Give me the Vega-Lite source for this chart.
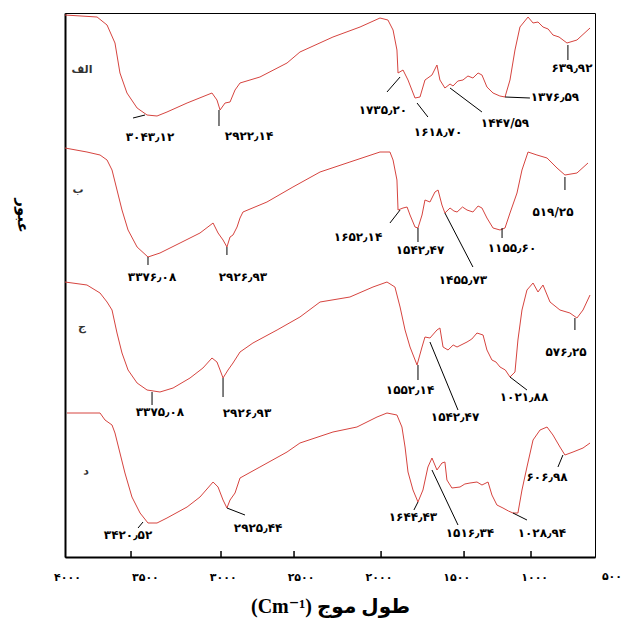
{
  "$schema": "https://vega.github.io/schema/vega-lite/v6.json",
  "autosize": {"type": "none"},
  "padding": {"left": 65, "top": 13, "right": 32, "bottom": 72},
  "width": 530,
  "height": 544,
  "background": "white",
  "config": {
    "view": {"stroke": "black", "strokeWidth": 1},
    "axis": {"grid": false}
  },
  "datasets": {
    "spectra": [
      {"sample": "الف", "wn": 4013, "t": 542}, {"sample": "الف", "wn": 3807, "t": 540}, {"sample": "الف", "wn": 3743, "t": 532},
      {"sample": "الف", "wn": 3692, "t": 514}, {"sample": "الف", "wn": 3660, "t": 484}, {"sample": "الف", "wn": 3615, "t": 464},
      {"sample": "الف", "wn": 3550, "t": 449}, {"sample": "الف", "wn": 3486, "t": 442}, {"sample": "الف", "wn": 3422, "t": 441},
      {"sample": "الف", "wn": 3358, "t": 445}, {"sample": "الف", "wn": 3229, "t": 454}, {"sample": "الف", "wn": 3101, "t": 462},
      {"sample": "الف", "wn": 3069, "t": 464}, {"sample": "الف", "wn": 3037, "t": 457}, {"sample": "الف", "wn": 3017, "t": 447},
      {"sample": "الف", "wn": 2985, "t": 454}, {"sample": "الف", "wn": 2953, "t": 455}, {"sample": "الف", "wn": 2921, "t": 467},
      {"sample": "الف", "wn": 2889, "t": 474}, {"sample": "الف", "wn": 2761, "t": 480}, {"sample": "الف", "wn": 2587, "t": 494},
      {"sample": "الف", "wn": 2504, "t": 505}, {"sample": "الف", "wn": 2292, "t": 520}, {"sample": "الف", "wn": 2118, "t": 530},
      {"sample": "الف", "wn": 1990, "t": 539}, {"sample": "الف", "wn": 1939, "t": 537}, {"sample": "الف", "wn": 1906, "t": 527},
      {"sample": "الف", "wn": 1881, "t": 507}, {"sample": "الف", "wn": 1874, "t": 484}, {"sample": "الف", "wn": 1842, "t": 487},
      {"sample": "الف", "wn": 1810, "t": 477}, {"sample": "الف", "wn": 1765, "t": 459}, {"sample": "الف", "wn": 1733, "t": 460},
      {"sample": "الف", "wn": 1701, "t": 477}, {"sample": "الف", "wn": 1656, "t": 482}, {"sample": "الف", "wn": 1624, "t": 492},
      {"sample": "الف", "wn": 1605, "t": 477}, {"sample": "الف", "wn": 1573, "t": 469}, {"sample": "الف", "wn": 1540, "t": 473},
      {"sample": "الف", "wn": 1521, "t": 471}, {"sample": "الف", "wn": 1490, "t": 476}, {"sample": "الف", "wn": 1457, "t": 477},
      {"sample": "الف", "wn": 1425, "t": 481}, {"sample": "الف", "wn": 1393, "t": 479}, {"sample": "الف", "wn": 1360, "t": 484},
      {"sample": "الف", "wn": 1335, "t": 482}, {"sample": "الف", "wn": 1303, "t": 470}, {"sample": "الف", "wn": 1264, "t": 464},
      {"sample": "الف", "wn": 1220, "t": 461}, {"sample": "الف", "wn": 1187, "t": 460},
      {"sample": "الف", "wn": 1155, "t": 477}, {"sample": "الف", "wn": 1123, "t": 507}, {"sample": "الف", "wn": 1091, "t": 530},
      {"sample": "الف", "wn": 1039, "t": 540}, {"sample": "الف", "wn": 1007, "t": 534}, {"sample": "الف", "wn": 975, "t": 535},
      {"sample": "الف", "wn": 943, "t": 530}, {"sample": "الف", "wn": 910, "t": 528},
      {"sample": "الف", "wn": 879, "t": 522}, {"sample": "الف", "wn": 840, "t": 520}, {"sample": "الف", "wn": 789, "t": 514}, {"sample": "الف", "wn": 725, "t": 517},
      {"sample": "الف", "wn": 641, "t": 529},

      {"sample": "ب", "wn": 4013, "t": 409}, {"sample": "ب", "wn": 3872, "t": 405}, {"sample": "ب", "wn": 3788, "t": 402},
      {"sample": "ب", "wn": 3743, "t": 397}, {"sample": "ب", "wn": 3711, "t": 387}, {"sample": "ب", "wn": 3679, "t": 367},
      {"sample": "ب", "wn": 3647, "t": 347}, {"sample": "ب", "wn": 3608, "t": 327}, {"sample": "ب", "wn": 3550, "t": 310},
      {"sample": "ب", "wn": 3480, "t": 300}, {"sample": "ب", "wn": 3403, "t": 304}, {"sample": "ب", "wn": 3274, "t": 314},
      {"sample": "ب", "wn": 3146, "t": 324}, {"sample": "ب", "wn": 3062, "t": 334}, {"sample": "ب", "wn": 3030, "t": 324},
      {"sample": "ب", "wn": 2998, "t": 317}, {"sample": "ب", "wn": 2973, "t": 310}, {"sample": "ب", "wn": 2953, "t": 320},
      {"sample": "ب", "wn": 2934, "t": 322}, {"sample": "ب", "wn": 2908, "t": 330}, {"sample": "ب", "wn": 2889, "t": 339},
      {"sample": "ب", "wn": 2870, "t": 345}, {"sample": "ب", "wn": 2716, "t": 355}, {"sample": "ب", "wn": 2549, "t": 370},
      {"sample": "ب", "wn": 2375, "t": 385}, {"sample": "ب", "wn": 2183, "t": 395}, {"sample": "ب", "wn": 1990, "t": 405},
      {"sample": "ب", "wn": 1926, "t": 405}, {"sample": "ب", "wn": 1906, "t": 397}, {"sample": "ب", "wn": 1881, "t": 377},
      {"sample": "ب", "wn": 1874, "t": 347}, {"sample": "ب", "wn": 1842, "t": 349}, {"sample": "ب", "wn": 1816, "t": 350},
      {"sample": "ب", "wn": 1797, "t": 342}, {"sample": "ب", "wn": 1765, "t": 330}, {"sample": "ب", "wn": 1746, "t": 329},
      {"sample": "ب", "wn": 1720, "t": 342}, {"sample": "ب", "wn": 1701, "t": 357}, {"sample": "ب", "wn": 1669, "t": 355},
      {"sample": "ب", "wn": 1637, "t": 365}, {"sample": "ب", "wn": 1617, "t": 367}, {"sample": "ب", "wn": 1592, "t": 352},
      {"sample": "ب", "wn": 1573, "t": 344}, {"sample": "ب", "wn": 1540, "t": 349}, {"sample": "ب", "wn": 1515, "t": 346}, {"sample": "ب", "wn": 1495, "t": 345},
      {"sample": "ب", "wn": 1460, "t": 350}, {"sample": "ب", "wn": 1431, "t": 347}, {"sample": "ب", "wn": 1393, "t": 345}, {"sample": "ب", "wn": 1360, "t": 351}, {"sample": "ب", "wn": 1335, "t": 349},
      {"sample": "ب", "wn": 1303, "t": 339}, {"sample": "ب", "wn": 1264, "t": 329}, {"sample": "ب", "wn": 1219, "t": 327},
      {"sample": "ب", "wn": 1187, "t": 329}, {"sample": "ب", "wn": 1155, "t": 344}, {"sample": "ب", "wn": 1110, "t": 364},
      {"sample": "ب", "wn": 1078, "t": 387}, {"sample": "ب", "wn": 1039, "t": 405}, {"sample": "ب", "wn": 982, "t": 402},
      {"sample": "ب", "wn": 917, "t": 399}, {"sample": "ب", "wn": 853, "t": 389}, {"sample": "ب", "wn": 802, "t": 382},
      {"sample": "ب", "wn": 725, "t": 384}, {"sample": "ب", "wn": 654, "t": 394},

      {"sample": "ج", "wn": 4013, "t": 275}, {"sample": "ج", "wn": 3872, "t": 272}, {"sample": "ج", "wn": 3788, "t": 264},
      {"sample": "ج", "wn": 3743, "t": 255}, {"sample": "ج", "wn": 3711, "t": 247}, {"sample": "ج", "wn": 3679, "t": 224},
      {"sample": "ج", "wn": 3647, "t": 204}, {"sample": "ج", "wn": 3608, "t": 187}, {"sample": "ج", "wn": 3550, "t": 174},
      {"sample": "ج", "wn": 3486, "t": 167}, {"sample": "ج", "wn": 3403, "t": 165}, {"sample": "ج", "wn": 3319, "t": 169},
      {"sample": "ج", "wn": 3210, "t": 179}, {"sample": "ج", "wn": 3127, "t": 189}, {"sample": "ج", "wn": 3069, "t": 199},
      {"sample": "ج", "wn": 3037, "t": 195}, {"sample": "ج", "wn": 3017, "t": 187}, {"sample": "ج", "wn": 2998, "t": 179},
      {"sample": "ج", "wn": 2966, "t": 187}, {"sample": "ج", "wn": 2934, "t": 194}, {"sample": "ج", "wn": 2889, "t": 205},
      {"sample": "ج", "wn": 2806, "t": 214}, {"sample": "ج", "wn": 2651, "t": 227}, {"sample": "ج", "wn": 2504, "t": 240},
      {"sample": "ج", "wn": 2375, "t": 255}, {"sample": "ج", "wn": 2183, "t": 260}, {"sample": "ج", "wn": 2035, "t": 270},
      {"sample": "ج", "wn": 1945, "t": 275}, {"sample": "ج", "wn": 1894, "t": 270}, {"sample": "ج", "wn": 1861, "t": 250},
      {"sample": "ج", "wn": 1829, "t": 227}, {"sample": "ج", "wn": 1797, "t": 210}, {"sample": "ج", "wn": 1752, "t": 192},
      {"sample": "ج", "wn": 1720, "t": 210}, {"sample": "ج", "wn": 1701, "t": 220}, {"sample": "ج", "wn": 1669, "t": 219},
      {"sample": "ج", "wn": 1624, "t": 227}, {"sample": "ج", "wn": 1605, "t": 229}, {"sample": "ج", "wn": 1585, "t": 210},
      {"sample": "ج", "wn": 1553, "t": 207}, {"sample": "ج", "wn": 1520, "t": 212}, {"sample": "ج", "wn": 1495, "t": 210}, {"sample": "ج", "wn": 1431, "t": 215},
      {"sample": "ج", "wn": 1400, "t": 218}, {"sample": "ج", "wn": 1367, "t": 224}, {"sample": "ج", "wn": 1328, "t": 222}, {"sample": "ج", "wn": 1303, "t": 207},
      {"sample": "ج", "wn": 1271, "t": 197}, {"sample": "ج", "wn": 1245, "t": 195}, {"sample": "ج", "wn": 1219, "t": 190}, {"sample": "ج", "wn": 1185, "t": 187}, {"sample": "ج", "wn": 1155, "t": 180},
      {"sample": "ج", "wn": 1123, "t": 185}, {"sample": "ج", "wn": 1104, "t": 217}, {"sample": "ج", "wn": 1078, "t": 247},
      {"sample": "ج", "wn": 1046, "t": 267}, {"sample": "ج", "wn": 1007, "t": 274}, {"sample": "ج", "wn": 975, "t": 265},
      {"sample": "ج", "wn": 943, "t": 272}, {"sample": "ج", "wn": 898, "t": 255}, {"sample": "ج", "wn": 834, "t": 247},
      {"sample": "ج", "wn": 770, "t": 244}, {"sample": "ج", "wn": 725, "t": 239}, {"sample": "ج", "wn": 686, "t": 247},
      {"sample": "ج", "wn": 641, "t": 262},

      {"sample": "د", "wn": 4000, "t": 144}, {"sample": "د", "wn": 3788, "t": 144}, {"sample": "د", "wn": 3756, "t": 137},
      {"sample": "د", "wn": 3711, "t": 132}, {"sample": "د", "wn": 3692, "t": 124}, {"sample": "د", "wn": 3660, "t": 104},
      {"sample": "د", "wn": 3628, "t": 84}, {"sample": "د", "wn": 3583, "t": 60}, {"sample": "د", "wn": 3531, "t": 44},
      {"sample": "د", "wn": 3480, "t": 34}, {"sample": "د", "wn": 3422, "t": 34}, {"sample": "د", "wn": 3358, "t": 39},
      {"sample": "د", "wn": 3229, "t": 50}, {"sample": "د", "wn": 3146, "t": 60}, {"sample": "د", "wn": 3062, "t": 75},
      {"sample": "د", "wn": 3030, "t": 70}, {"sample": "د", "wn": 2998, "t": 57}, {"sample": "د", "wn": 2973, "t": 49},
      {"sample": "د", "wn": 2953, "t": 57}, {"sample": "د", "wn": 2921, "t": 64}, {"sample": "د", "wn": 2889, "t": 79},
      {"sample": "د", "wn": 2761, "t": 90}, {"sample": "د", "wn": 2587, "t": 105}, {"sample": "د", "wn": 2504, "t": 114},
      {"sample": "د", "wn": 2292, "t": 125}, {"sample": "د", "wn": 2138, "t": 130}, {"sample": "د", "wn": 2009, "t": 140},
      {"sample": "د", "wn": 1945, "t": 144}, {"sample": "د", "wn": 1881, "t": 142}, {"sample": "د", "wn": 1849, "t": 130},
      {"sample": "د", "wn": 1829, "t": 110}, {"sample": "د", "wn": 1810, "t": 85}, {"sample": "د", "wn": 1778, "t": 67},
      {"sample": "د", "wn": 1746, "t": 55}, {"sample": "د", "wn": 1714, "t": 67}, {"sample": "د", "wn": 1682, "t": 90},
      {"sample": "د", "wn": 1656, "t": 99}, {"sample": "د", "wn": 1624, "t": 87}, {"sample": "د", "wn": 1592, "t": 94},
      {"sample": "د", "wn": 1573, "t": 95}, {"sample": "د", "wn": 1560, "t": 77}, {"sample": "د", "wn": 1528, "t": 69},
      {"sample": "د", "wn": 1476, "t": 70}, {"sample": "د", "wn": 1445, "t": 73}, {"sample": "د", "wn": 1412, "t": 74}, {"sample": "د", "wn": 1367, "t": 75},
      {"sample": "د", "wn": 1335, "t": 72}, {"sample": "د", "wn": 1296, "t": 75}, {"sample": "د", "wn": 1271, "t": 62},
      {"sample": "د", "wn": 1239, "t": 52}, {"sample": "د", "wn": 1200, "t": 49}, {"sample": "د", "wn": 1165, "t": 46}, {"sample": "د", "wn": 1136, "t": 44},
      {"sample": "د", "wn": 1104, "t": 44}, {"sample": "د", "wn": 1078, "t": 67}, {"sample": "د", "wn": 1046, "t": 90},
      {"sample": "د", "wn": 1007, "t": 117}, {"sample": "د", "wn": 962, "t": 127}, {"sample": "د", "wn": 917, "t": 130},
      {"sample": "د", "wn": 879, "t": 122}, {"sample": "د", "wn": 834, "t": 110}, {"sample": "د", "wn": 802, "t": 102},
      {"sample": "د", "wn": 750, "t": 105}, {"sample": "د", "wn": 686, "t": 109}, {"sample": "د", "wn": 641, "t": 114}
    ],
    "peakLabels": [
      {"wn": 3467, "t": 420, "text": "۳۰۴۳٫۱۲"},
      {"wn": 2831, "t": 421, "text": "۲۹۲۲٫۱۴"},
      {"wn": 1971, "t": 447, "text": "۱۷۳۵٫۲۰"},
      {"wn": 1617, "t": 425, "text": "۱۶۱۸٫۷۰"},
      {"wn": 1187, "t": 434, "text": "۱۴۴۷/۵۹"},
      {"wn": 866, "t": 460, "text": "۱۳۷۶٫۵۹"},
      {"wn": 757, "t": 489, "text": "۶۳۹٫۹۲"},
      {"wn": 3454, "t": 280, "text": "۳۳۷۶٫۰۸"},
      {"wn": 2870, "t": 280, "text": "۲۹۲۶٫۹۳"},
      {"wn": 2131, "t": 320, "text": "۱۶۵۲٫۱۴"},
      {"wn": 1733, "t": 307, "text": "۱۵۴۲٫۴۷"},
      {"wn": 1457, "t": 277, "text": "۱۴۵۵٫۷۳"},
      {"wn": 1142, "t": 309, "text": "۱۱۵۵٫۶۰"},
      {"wn": 879, "t": 345, "text": "۵۱۹/۲۵"},
      {"wn": 3403, "t": 145, "text": "۳۳۷۵٫۰۸"},
      {"wn": 2844, "t": 144, "text": "۲۹۲۶٫۹۳"},
      {"wn": 1797, "t": 167, "text": "۱۵۵۲٫۱۴"},
      {"wn": 1508, "t": 140, "text": "۱۵۴۲٫۴۷"},
      {"wn": 1065, "t": 160, "text": "۱۰۲۱٫۸۸"},
      {"wn": 795, "t": 205, "text": "۵۷۶٫۲۵"},
      {"wn": 3608, "t": 22, "text": "۳۴۲۰٫۵۲"},
      {"wn": 2773, "t": 29, "text": "۲۹۲۵٫۴۴"},
      {"wn": 1778, "t": 40, "text": "۱۶۴۴٫۴۳"},
      {"wn": 1412, "t": 24, "text": "۱۵۱۶٫۳۴"},
      {"wn": 950, "t": 24, "text": "۱۰۲۸٫۹۴"},
      {"wn": 917, "t": 80, "text": "۶۰۶٫۹۸"}
    ],
    "leaders": [
      {"wn": 3576, "t": 439, "wn2": 3499, "t2": 442},
      {"wn": 3024, "t": 447, "wn2": 3024, "t2": 431},
      {"wn": 1861, "t": 480, "wn2": 1945, "t2": 465},
      {"wn": 1752, "t": 454, "wn2": 1682, "t2": 440},
      {"wn": 1540, "t": 469, "wn2": 1335, "t2": 445},
      {"wn": 1187, "t": 460, "wn2": 1027, "t2": 459},
      {"wn": 783, "t": 512, "wn2": 783, "t2": 497},
      {"wn": 3480, "t": 300, "wn2": 3480, "t2": 292},
      {"wn": 2973, "t": 310, "wn2": 2973, "t2": 302},
      {"wn": 1861, "t": 347, "wn2": 1926, "t2": 334},
      {"wn": 1746, "t": 329, "wn2": 1746, "t2": 315},
      {"wn": 1573, "t": 344, "wn2": 1393, "t2": 290},
      {"wn": 1206, "t": 329, "wn2": 1206, "t2": 319},
      {"wn": 802, "t": 380, "wn2": 802, "t2": 367},
      {"wn": 3454, "t": 165, "wn2": 3454, "t2": 152},
      {"wn": 2998, "t": 179, "wn2": 2998, "t2": 160},
      {"wn": 1746, "t": 192, "wn2": 1746, "t2": 177},
      {"wn": 1669, "t": 215, "wn2": 1489, "t2": 147},
      {"wn": 1155, "t": 180, "wn2": 1046, "t2": 167},
      {"wn": 738, "t": 239, "wn2": 738, "t2": 227},
      {"wn": 3512, "t": 35, "wn2": 3544, "t2": 29},
      {"wn": 2973, "t": 49, "wn2": 2857, "t2": 42},
      {"wn": 1746, "t": 55, "wn2": 1772, "t2": 47},
      {"wn": 1656, "t": 87, "wn2": 1489, "t2": 32},
      {"wn": 1136, "t": 44, "wn2": 1046, "t2": 37},
      {"wn": 815, "t": 102, "wn2": 847, "t2": 90}
    ],
    "panels": [
      {"wn": 3904, "t": 487, "text": "الف"},
      {"wn": 3929, "t": 367, "text": "ب"},
      {"wn": 3904, "t": 230, "text": "ج"},
      {"wn": 3878, "t": 85, "text": "د"}
    ],
    "ticks": [
      {"wn": 3589}, {"wn": 3011}, {"wn": 2542}, {"wn": 1983}, {"wn": 1450}, {"wn": 1020}
    ],
    "edgeLabel": [
      {"wn": 500, "text": "۵۰۰"}
    ]
  },
  "layer": [
    {
      "data": {"name": "spectra"},
      "mark": {"type": "line", "color": "#d6443f", "strokeWidth": 1, "interpolate": "linear"},
      "encoding": {
        "x": {
          "field": "wn", "type": "quantitative",
          "scale": {"domain": [609, 4013], "reverse": true, "nice": false, "zero": false},
          "axis": {
            "title": "(Cm⁻¹) طول موج",
            "titleFont": "Liberation Serif, DejaVu Sans",
            "titleFontSize": 20,
            "titleFontWeight": "bold",
            "titleColor": "black",
            "titlePadding": 14,
            "values": [4000, 3500, 3000, 2500, 2000, 1500, 1000],
            "format": "d",
            "labelExpr": "replace(replace(replace(replace(replace(replace(datum.label, regexp('0','g'), '۰'), regexp('1','g'), '۱'), regexp('2','g'), '۲'), regexp('3','g'), '۳'), regexp('4','g'), '۴'), regexp('5','g'), '۵')",
            "labelFont": "DejaVu Sans",
            "labelFontSize": 11,
            "labelFontWeight": "bold",
            "labelColor": "black",
            "labelPadding": 14,
            "labelBound": false,
            "labelFlush": false,
            "labelOverlap": false,
            "ticks": false,
            "domainColor": "black",
            "domainWidth": 2
          }
        },
        "y": {
          "field": "t", "type": "quantitative",
          "scale": {"domain": [0, 544], "nice": false, "zero": false},
          "axis": {
            "title": "عبور",
            "titleFont": "DejaVu Sans",
            "titleFontSize": 15,
            "titleFontWeight": "bold",
            "titleColor": "black",
            "titleAngle": 90,
            "titleX": -43,
            "titleY": 202,
            "titleAlign": "center",
            "titleBaseline": "middle",
            "labels": false,
            "ticks": false,
            "domainColor": "black",
            "domainWidth": 2
          }
        },
        "detail": {"field": "sample", "type": "nominal"}
      }
    },
    {
      "data": {"name": "leaders"},
      "mark": {"type": "rule", "color": "black", "strokeWidth": 1},
      "encoding": {
        "x": {"field": "wn", "type": "quantitative"},
        "y": {"field": "t", "type": "quantitative"},
        "x2": {"field": "wn2"},
        "y2": {"field": "t2"}
      }
    },
    {
      "data": {"name": "peakLabels"},
      "mark": {"type": "text", "font": "DejaVu Sans", "fontSize": 12, "fontWeight": "bold", "color": "black", "align": "center", "baseline": "middle"},
      "encoding": {
        "x": {"field": "wn", "type": "quantitative"},
        "y": {"field": "t", "type": "quantitative"},
        "text": {"field": "text"}
      }
    },
    {
      "data": {"name": "panels"},
      "mark": {"type": "text", "font": "DejaVu Sans", "fontSize": 11, "fontWeight": "bold", "color": "#333333", "align": "center", "baseline": "middle"},
      "encoding": {
        "x": {"field": "wn", "type": "quantitative"},
        "y": {"field": "t", "type": "quantitative"},
        "text": {"field": "text"}
      }
    },
    {
      "data": {"name": "ticks"},
      "mark": {"type": "rule", "color": "black", "strokeWidth": 1.5},
      "encoding": {
        "x": {"field": "wn", "type": "quantitative"},
        "y": {"datum": 0, "type": "quantitative"},
        "y2": {"datum": 6}
      }
    },
    {
      "data": {"name": "edgeLabel"},
      "mark": {"type": "text", "font": "DejaVu Sans", "fontSize": 11, "fontWeight": "bold", "color": "black", "align": "center", "baseline": "top", "clip": false},
      "encoding": {
        "x": {"field": "wn", "type": "quantitative"},
        "y": {"datum": -14, "type": "quantitative"},
        "text": {"field": "text"}
      }
    }
  ]
}
